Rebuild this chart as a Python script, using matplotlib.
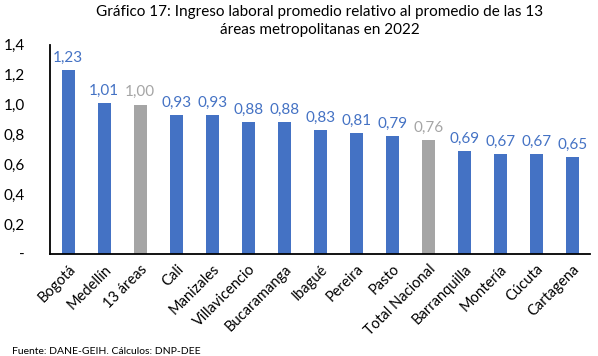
import matplotlib
matplotlib.use('Agg')
import matplotlib.pyplot as plt

plt.rcParams['font.family'] = ['Lato', 'DejaVu Sans']

# Datos
ciudades = ['Bogotá', 'Medellín', '13 áreas', 'Cali', 'Manizales', 'Villavicencio',
            'Bucaramanga', 'Ibagué', 'Pereira', 'Pasto', 'Total Nacional',
            'Barranquilla', 'Montería', 'Cúcuta', 'Cartagena']
valores = [1.23, 1.01, 1.00, 0.93, 0.93, 0.88, 0.88, 0.83, 0.81, 0.79, 0.76,
           0.69, 0.67, 0.67, 0.65]
grises = ['13 áreas', 'Total Nacional']

azul = '#4472C4'
gris = '#A5A5A5'
colores = [gris if c in grises else azul for c in ciudades]

fig = plt.figure(figsize=(5.98, 3.56), dpi=100)
ax = fig.add_axes([0.084, 0.287, 0.903, 0.587])

x = range(len(ciudades))
ax.bar(x, valores, width=0.36, color=colores)

for i, v in enumerate(valores):
    ax.text(i, v + 0.035, f'{v:.2f}'.replace('.', ','), ha='center', va='bottom',
            fontsize=11, color=colores[i])

ax.set_ylim(0, 1.4)
ax.set_xlim(-0.5, len(ciudades) - 0.5)
ticks = [0, 0.2, 0.4, 0.6, 0.8, 1.0, 1.2, 1.4]
ax.set_yticks(ticks)
ax.set_yticklabels(['-'] + [f'{t:.1f}'.replace('.', ',') for t in ticks[1:]], fontsize=11)
ax.set_xticks(list(x))
ax.set_xticklabels(ciudades, rotation=45, ha='right', rotation_mode='anchor', fontsize=10.5)
ax.tick_params(axis='both', length=0)
ax.tick_params(axis='y', pad=18)
ax.tick_params(axis='x', pad=6)

ax.spines['top'].set_visible(False)
ax.spines['right'].set_visible(False)
ax.spines['left'].set_linewidth(1.3)
ax.spines['bottom'].set_linewidth(1.3)

fig.text(0.535, 0.985, 'Gráfico 17: Ingreso laboral promedio relativo al promedio de las 13\náreas metropolitanas en 2022',
         ha='center', va='top', fontsize=11, linespacing=1.35)
fig.text(0.02, 0.0, 'Fuente: DANE-GEIH. Cálculos: DNP-DEE', fontsize=7.5, ha='left', va='bottom')

fig.savefig('out.png', dpi=100)
